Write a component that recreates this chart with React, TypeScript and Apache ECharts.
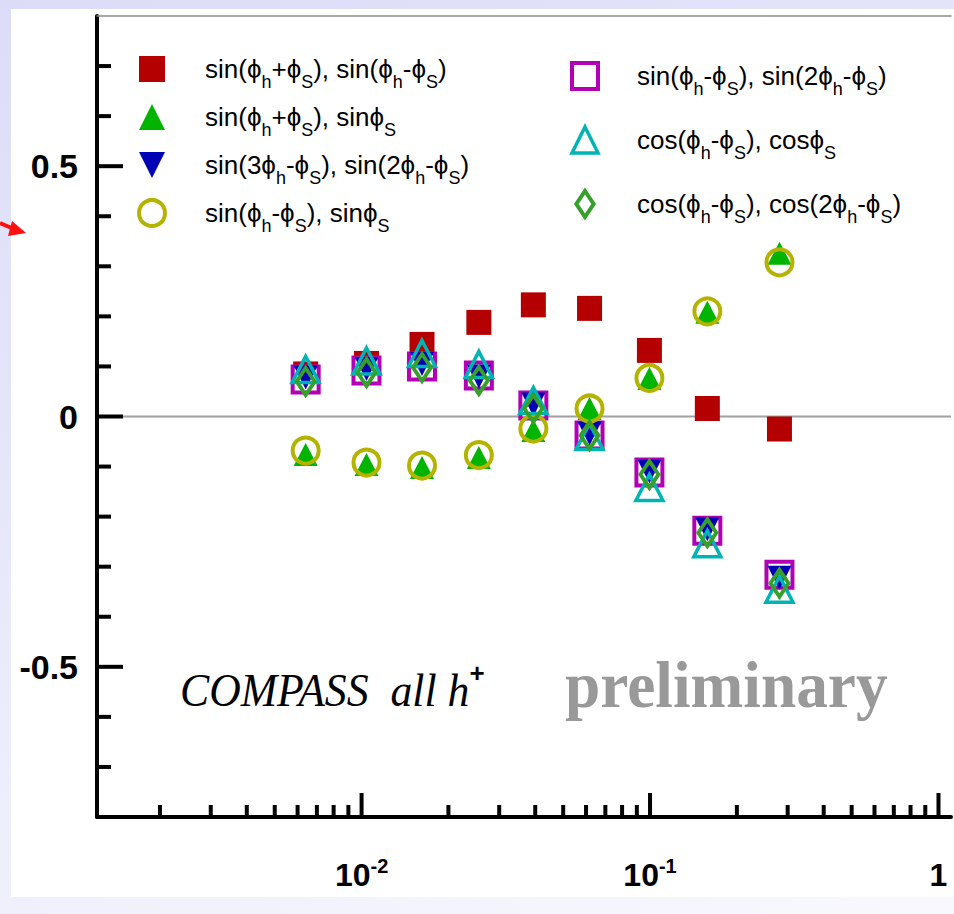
import React, { useEffect, useRef } from 'react';
import * as echarts from 'echarts';

// ---------------- data ----------------
const xValues = [0.0064, 0.0104, 0.0162, 0.0255, 0.0394, 0.0617, 0.0995, 0.158, 0.281];

const sinSumSinDiff = [0.085, 0.106, 0.144, 0.188, 0.223, 0.216, 0.132, 0.016, -0.025];
const sinSumSinS = [-0.076, -0.096, -0.102, -0.082, -0.028, 0.016, 0.076, 0.208, 0.326];
const sin3hSin2h = [0.078, 0.095, 0.105, 0.08, 0.024, -0.034, -0.11, -0.225, -0.322];
const sinDiffSinS = [-0.068, -0.092, -0.098, -0.077, -0.024, 0.016, 0.077, 0.21, 0.308];
const sinDiffSin2h = [0.074, 0.092, 0.1, 0.082, 0.022, -0.038, -0.112, -0.228, -0.316];
const cosDiffCosS = [0.094, 0.111, 0.126, 0.104, 0.032, -0.04, -0.142, -0.254, -0.345];
const cosDiffCos2h = [0.07, 0.088, 0.098, 0.072, 0.016, -0.038, -0.116, -0.232, -0.333];

const seriesNames = [
  'sin(ϕ_h+ϕ_S), sin(ϕ_h-ϕ_S)',
  'sin(ϕ_h+ϕ_S), sinϕ_S',
  'sin(3ϕ_h-ϕ_S), sin(2ϕ_h-ϕ_S)',
  'sin(ϕ_h-ϕ_S), sinϕ_S',
  'sin(ϕ_h-ϕ_S), sin(2ϕ_h-ϕ_S)',
  'cos(ϕ_h-ϕ_S), cosϕ_S',
  'cos(ϕ_h-ϕ_S), cos(2ϕ_h-ϕ_S)',
];

const xLabelValues = [0.01, 0.1, 1];
const xLabelBase = ['10', '10', '1'];
const xLabelExp = ['-2', '-1', ''];
const xMinorTicks = [
  0.002, 0.003, 0.004, 0.005, 0.006, 0.007, 0.008, 0.009,
  0.02, 0.03, 0.04, 0.05, 0.06, 0.07, 0.08, 0.09,
  0.2, 0.3, 0.4, 0.5, 0.6, 0.7, 0.8, 0.9,
];

const yLabelValues = [-0.5, 0, 0.5];
const yLabelTexts = ['-0.5', '0', '0.5'];
const yMinorTicks = [-0.7, -0.6, -0.4, -0.3, -0.2, -0.1, 0.1, 0.2, 0.3, 0.4, 0.6, 0.7];

const X_MIN = 0.00121;
const X_MAX = 1.105;
const Y_MIN = -0.8;
const Y_MAX = 0.8;

const SANS = '"Liberation Sans", Arial, Helvetica, sans-serif';
const SERIF = '"Liberation Serif", "Times New Roman", serif';

// ---------------- styles ----------------
type Sty = {
  symbol: string;
  legendIcon: string;
  size: number | number[];
  rotate?: number;
  fill: string;
  stroke: string;
  lw: number;
};

const styles: Sty[] = [
  { symbol: 'rect', legendIcon: 'path://M0,0L10,0L10,10L0,10Z', size: 25, fill: '#b40000', stroke: '#b40000', lw: 0 },
  { symbol: 'triangle', legendIcon: 'path://M5,0L10,10L0,10Z', size: [24, 23], fill: '#00b400', stroke: '#00b400', lw: 0 },
  { symbol: 'triangle', legendIcon: 'path://M0,0L10,0L5,10Z', size: 24, rotate: 180, fill: '#0000b4', stroke: '#0000b4', lw: 0 },
  { symbol: 'circle', legendIcon: 'circle', size: 26, fill: 'rgba(0,0,0,0)', stroke: '#b4b400', lw: 4 },
  { symbol: 'rect', legendIcon: 'path://M0,0L10,0L10,10L0,10Z', size: 26, fill: '#ffffff', stroke: '#b400b4', lw: 4 },
  { symbol: 'triangle', legendIcon: 'path://M5,0L10,10L0,10Z', size: [27, 26], fill: 'rgba(0,0,0,0)', stroke: '#00b4b4', lw: 3.5 },
  { symbol: 'diamond', legendIcon: 'path://M9,0L18,13.5L9,27L0,13.5Z', size: [18, 27], fill: 'rgba(0,0,0,0)', stroke: '#35a02a', lw: 4 },
];

const seriesValues = [
  sinSumSinDiff,
  sinSumSinS,
  sin3hSin2h,
  sinDiffSinS,
  sinDiffSin2h,
  cosDiffCosS,
  cosDiffCos2h,
];

// drawing order (bottom -> top)
const drawOrder = [0, 4, 2, 1, 3, 5, 6];

function legendFormatter(name: string) {
  return name.replace(/_([hS])/g, '{s|$1}');
}

function legendItem(i: number) {
  const s = styles[i];
  return {
    name: seriesNames[i],
    icon: s.legendIcon,
    itemStyle: { color: s.fill, borderColor: s.stroke, borderWidth: s.lw },
  };
}

const legendTextStyle = (padLeft: number) => ({
  fontFamily: SANS,
  fontSize: 26,
  color: '#000',
  lineHeight: 44,
  padding: [0, 0, 0, padLeft],
  rich: {
    s: { fontFamily: SANS, fontSize: 18, color: '#000', lineHeight: 18, verticalAlign: 'bottom' },
  },
});

function buildOption(): any {
  const scatterSeries = drawOrder.map((i) => {
    const s = styles[i];
    return {
      type: 'scatter',
      name: seriesNames[i],
      data: xValues.map((x, k) => [x, seriesValues[i][k]]),
      symbol: s.symbol,
      symbolSize: s.size,
      symbolRotate: s.rotate || 0,
      itemStyle: { color: s.fill, borderColor: s.stroke, borderWidth: s.lw, opacity: 1 },
      z: 2,
      clip: false,
      silent: true,
      emphasis: { disabled: true },
    };
  });

  const zeroLine = {
    type: 'custom',
    z: 1,
    silent: true,
    clip: false,
    data: [[X_MIN, 0]],
    renderItem: (_p: any, api: any) => {
      const a = api.coord([X_MIN, api.value(1)]);
      const b = api.coord([X_MAX, api.value(1)]);
      return {
        type: 'line',
        shape: { x1: a[0], y1: a[1], x2: b[0], y2: b[1] },
        style: { stroke: '#a0a0a0', lineWidth: 2 },
      };
    },
  };

  const xTickData = [
    ...xMinorTicks.map((v) => [v, Y_MIN, 0]),
    ...xLabelValues.map((v) => [v, Y_MIN, 1]),
  ];
  const xTicks = {
    type: 'custom',
    z: 3,
    silent: true,
    clip: false,
    data: xTickData,
    renderItem: (_p: any, api: any) => {
      const p = api.coord([api.value(0), api.value(1)]);
      const len = api.value(2) === 1 ? 24 : 12;
      return {
        type: 'line',
        shape: { x1: p[0], y1: p[1], x2: p[0], y2: p[1] - len },
        style: { stroke: '#000', lineWidth: 4 },
      };
    },
  };

  const yTickData = [
    ...yMinorTicks.map((v) => [X_MIN, v, 0]),
    ...yLabelValues.map((v) => [X_MIN, v, 1]),
  ];
  const yTicks = {
    type: 'custom',
    z: 3,
    silent: true,
    clip: false,
    data: yTickData,
    renderItem: (_p: any, api: any) => {
      const p = api.coord([api.value(0), api.value(1)]);
      const len = api.value(2) === 1 ? 26 : 14;
      return {
        type: 'line',
        shape: { x1: p[0], y1: p[1], x2: p[0] + len, y2: p[1] },
        style: { stroke: '#000', lineWidth: 4 },
      };
    },
  };

  return {
    animation: false,
    backgroundColor: 'transparent',
    grid: { left: 97, top: 16, right: 0, height: 801 },
    xAxis: [
      {
        type: 'log',
        logBase: 10,
        min: X_MIN,
        max: X_MAX,
        position: 'bottom',
        axisLine: { show: true, onZero: false, lineStyle: { color: '#000', width: 4 } },
        axisTick: { show: false },
        splitLine: { show: false },
        minorTick: { show: false },
        axisLabel: {
          show: true,
          margin: 39,
          color: '#000',
          formatter: (v: number) => {
            for (let i = 0; i < xLabelValues.length; i++) {
              if (Math.abs(Math.log10(v) - Math.log10(xLabelValues[i])) < 1e-6) {
                return xLabelExp[i]
                  ? `{b|${xLabelBase[i]}}{e|${xLabelExp[i]}}`
                  : `{b|${xLabelBase[i]}}`;
              }
            }
            return '';
          },
          rich: {
            b: { fontFamily: SANS, fontSize: 32, fontWeight: 'bold', color: '#000', lineHeight: 32, padding: [5, 0, 0, 0] },
            e: { fontFamily: SANS, fontSize: 20, fontWeight: 'bold', color: '#000', lineHeight: 20, verticalAlign: 'top' },
          },
        },
      },
      {
        type: 'log',
        logBase: 10,
        min: X_MIN,
        max: X_MAX,
        position: 'top',
        axisLine: { show: true, onZero: false, lineStyle: { color: '#8c8c8c', width: 1.5 } },
        axisTick: { show: false },
        axisLabel: { show: false },
        splitLine: { show: false },
      },
    ],
    yAxis: {
      type: 'value',
      min: Y_MIN,
      max: Y_MAX,
      interval: 0.1,
      axisLine: { show: true, onZero: false, lineStyle: { color: '#000', width: 4 } },
      axisTick: { show: false },
      splitLine: { show: false },
      axisLabel: {
        show: true,
        interval: 0,
        margin: 19,
        color: '#000',
        fontFamily: SANS,
        fontSize: 34,
        fontWeight: 'bold',
        padding: [6, 0, 0, 0],
        formatter: (v: number) => {
          for (let i = 0; i < yLabelValues.length; i++) {
            if (Math.abs(v - yLabelValues[i]) < 1e-6) return yLabelTexts[i];
          }
          return '';
        },
      },
    },
    legend: [
      {
        orient: 'vertical',
        left: 137,
        top: 47,
        padding: 0,
        itemWidth: 26,
        itemHeight: 26,
        itemGap: 4,
        selectedMode: false,
        data: [0, 1, 2, 3].map(legendItem),
        formatter: legendFormatter,
        textStyle: legendTextStyle(35),
      },
      {
        orient: 'vertical',
        left: 570,
        top: 54,
        padding: 0,
        itemWidth: 26,
        itemHeight: 26,
        itemGap: 20,
        selectedMode: false,
        data: [4, 5, 6].map(legendItem),
        formatter: legendFormatter,
        textStyle: legendTextStyle(34),
      },
    ],
    graphic: [
      {
        type: 'rect',
        z: -10,
        silent: true,
        shape: { x: 11, y: 9, width: 960, height: 888 },
        style: { fill: '#ffffff' },
      },
      {
        type: 'polyline',
        silent: true,
        shape: { points: [[0, 223], [14, 229]] },
        style: { stroke: '#ff1010', lineWidth: 4, fill: null },
      },
      {
        type: 'polygon',
        silent: true,
        shape: { points: [[12, 221], [26, 233], [8, 236]] },
        style: { fill: '#ff1010' },
      },
      {
        type: 'text',
        silent: true,
        x: 180,
        y: 690,
        scaleX: 0.93,
        style: {
          text: 'COMPASS  all h',
          fontFamily: SERIF,
          fontStyle: 'italic',
          fontSize: 47,
          fill: '#000',
          align: 'left',
          verticalAlign: 'middle',
        },
      },
      {
        type: 'text',
        silent: true,
        x: 477,
        y: 673,
        style: {
          text: '+',
          fontFamily: SANS,
          fontWeight: 'bold',
          fontSize: 26,
          fill: '#000',
          align: 'center',
          verticalAlign: 'middle',
        },
      },
      {
        type: 'text',
        silent: true,
        x: 565,
        y: 685,
        scaleX: 0.96,
        style: {
          text: 'preliminary',
          fontFamily: SERIF,
          fontWeight: 'bold',
          fontSize: 66,
          fill: '#999999',
          align: 'left',
          verticalAlign: 'middle',
        },
      },
    ],
    series: [zeroLine, ...scatterSeries, xTicks, yTicks],
  };
}

export default function App() {
  const ref = useRef<HTMLDivElement>(null);
  useEffect(() => {
    if (!ref.current) return;
    const chart = echarts.init(ref.current, null, { renderer: 'svg' });
    chart.setOption(buildOption());
    return () => chart.dispose();
  }, []);
  return (
    <div
      style={{
        position: 'fixed',
        left: 0,
        top: 0,
        width: 954,
        height: 914,
        overflow: 'hidden',
        background: 'linear-gradient(160deg, #dcdcf8 0%, #e8e8fa 45%, #f8f8fe 100%)',
      }}
    >
      <div ref={ref} style={{ width: 954, height: 914 }} />
    </div>
  );
}
